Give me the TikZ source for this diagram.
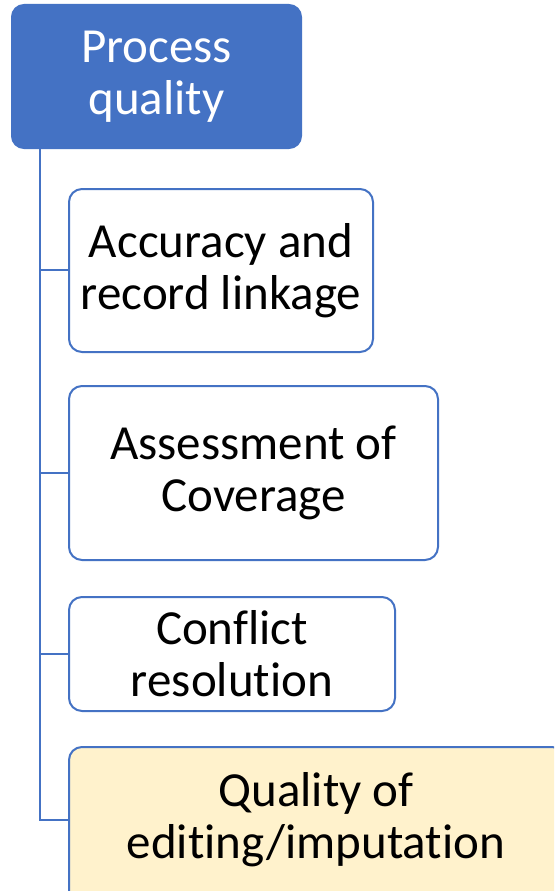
\documentclass[tikz,border=0pt]{standalone}
\usepackage{fontspec}
\setmainfont{Carlito}[Ligatures=NoCommon]
\definecolor{accent}{HTML}{4472C4}
\definecolor{paleyellow}{HTML}{FFF2CC}
\begin{document}
\begin{tikzpicture}[x=1pt,y=-1pt,
  topbox/.style={draw=accent,fill=accent,line width=2pt,rounded corners=12pt,text=white},
  childbox/.style={draw=accent,fill=white,line width=2pt,rounded corners=13pt,text=black},
  hilite/.style={childbox,fill=paleyellow},
  lbl/.style={font=\fontsize{49}{52}\selectfont,align=center,inner sep=0pt},
  conn/.style={draw=accent,line width=2pt}]
\useasboundingbox (0,0) rectangle (554,891);
\clip (0,0) rectangle (554,891);
\fill[white] (0,0) rectangle (554,891);
% boxes
\draw[topbox] (12,5) rectangle (301,148);
\node[lbl,text=white] (top) at (156.5,76.5) {Process\\quality};
\coordinate (topanchor) at (40,148);
\draw[childbox] (69,189) rectangle (373,352);
\node[lbl] (c1) at (221,270.5) {Accuracy and\\record linkage};
\draw[childbox] (69,386) rectangle (438,560);
\node[lbl] (c2) at (253.5,473) {Assessment of\\Coverage};
\draw[childbox] (69,597) rectangle (395,711);
\node[lbl] (c3) at (232,654) {Conflict\\resolution};
\draw[hilite] (69,747) rectangle (565,905);
\node[lbl] (c4) at (316,820) {Quality of\\editing/imputation};
% connectors
\coordinate (j1) at (69,270);
\coordinate (j2) at (69,473);
\coordinate (j3) at (69,654);
\coordinate (j4) at (69,820);
\draw[conn] (topanchor) |- (j4);
\draw[conn] (topanchor |- j1) -- (j1);
\draw[conn] (topanchor |- j2) -- (j2);
\draw[conn] (topanchor |- j3) -- (j3);
\end{tikzpicture}
\end{document}
